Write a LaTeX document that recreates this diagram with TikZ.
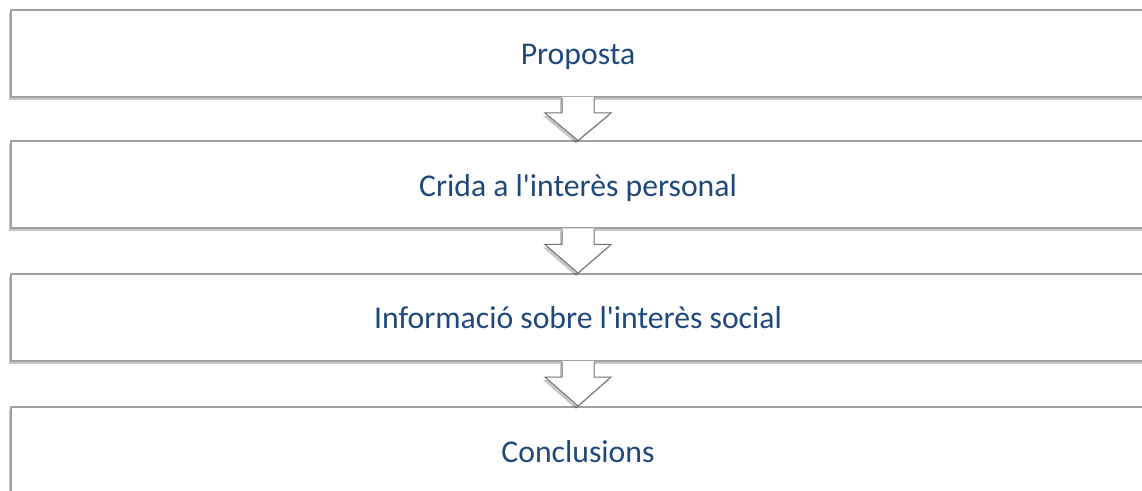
\documentclass[tikz,border=0pt]{standalone}
\usepackage{fontspec}
\setmainfont{Carlito}
\usetikzlibrary{calc,shadows}
\definecolor{txtblue}{HTML}{1F497D}
\definecolor{edgegray}{HTML}{A0A0A0}
\newcommand{\lowtext}[1]{\raisebox{-11.5pt}[0pt][0pt]{#1}}
\begin{document}
\begin{tikzpicture}[x=1pt,y=1pt,
  stagebox/.style={draw=edgegray, line width=2pt, fill=white, minimum width=1134pt, minimum height=87pt,
    inner sep=0pt, text=txtblue, font=\fontsize{31.7}{38}\selectfont,
    drop shadow={shadow xshift=-2pt, shadow yshift=-3pt, opacity=0.22, fill=black}},
  arrowfill/.style={fill=white, drop shadow={shadow xshift=-2pt, shadow yshift=-3pt, opacity=0.22, fill=black}},
  arrowline/.style={draw=gray!90!black, line width=1pt, line join=miter}
]
\useasboundingbox (0,0) rectangle (1142,490);
\clip (0,0) rectangle (1142,490);
\fill[white] (0,0) rectangle (1142,490);
\node[stagebox] (b1) at (578,436.5) {\lowtext{Proposta}};
\node[stagebox] (b2) at (578,305) {\lowtext{Crida a l\textquotesingle interès personal}};
\node[stagebox] (b3) at (578,172.5) {\lowtext{Informació sobre l\textquotesingle interès social}};
\node[stagebox] (b4) at (578,39.5) {\lowtext{Conclusions}};
\foreach \a/\b in {b1/b2, b2/b3, b3/b4}{
  \coordinate (s) at (\a.south);
  \coordinate (t) at (\b.north);
  \path[arrowfill] ($(s)+(-16,1)$) -- ($(s)+(-16,-15)$) -- ($(s)+(-33,-15)$) -- (t) -- ($(s)+(33,-15)$) -- ($(s)+(16,-15)$) -- ($(s)+(16,1)$) -- cycle;
  \draw[arrowline] ($(s)+(-16,0)$) -- ($(s)+(-16,-15)$) -- ($(s)+(-33,-15)$) -- (t) -- ($(s)+(33,-15)$) -- ($(s)+(16,-15)$) -- ($(s)+(16,0)$);
}
\end{tikzpicture}
\end{document}
